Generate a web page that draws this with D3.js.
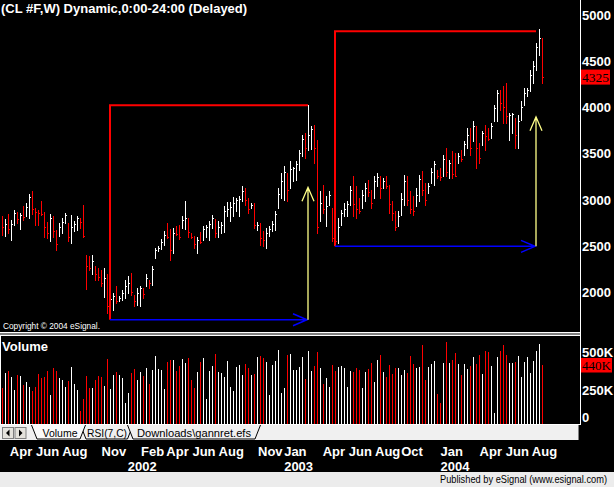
<!DOCTYPE html>
<html><head><meta charset="utf-8">
<script src="https://cdn.jsdelivr.net/npm/d3@7"></script>
<style>html,body{margin:0;padding:0;background:#000;overflow:hidden}</style>
</head><body><svg id="c" width="614" height="487"></svg>
<script>
// ---------- DATA (weekly CL #F bars, Mar 2001 - Aug 2004) ----------
const firstWeek = "2001-03-12";
const high = [
2820,2790,2840,2780,2890,2870,2850,2930,2960,3060,
3090,2910,2890,2980,2870,2760,2840,2820,2674,2746,
2800,2855,2746,2836,2764,2819,2800,2945,2400,2390,
2400,2280,2260,2240,2260,2200,1960,1990,2060,1955,
2025,2130,2170,2205,1970,2045,2060,2045,2190,2135,
2280,2480,2495,2570,2660,2750,2680,2690,2710,2730,
2820,2980,2800,2640,2610,2600,2650,2717,2730,2770,
2830,2790,2764,2754,2927,2970,2977,3027,3017,3035,
3143,3125,3017,2963,2963,2754,2746,2656,2692,2710,
2764,2872,3125,3288,3367,3288,3414,3352,3414,3541,
3703,3721,4020,3800,3810,3649,3089,3161,3035,3089,
2908,2980,2800,2890,2963,2981,3143,3259,3143,3017,
3107,3180,3215,3107,3251,3288,3251,3233,3251,3161,
2981,2872,2872,3071,3270,3259,3089,3035,3125,3270,
3306,3180,3180,3342,3414,3324,3342,3486,3558,3432,
3522,3504,3504,3540,3630,3775,3775,3847,3793,3612,
3739,3811,3775,3829,4027,4190,4190,4226,4262,3937,
3940,3883,3919,4063,4207,4207,4406,4496,4695,4850,
4750];
const low = [
2620,2610,2640,2560,2720,2750,2680,2780,2820,2800,
2840,2730,2730,2830,2600,2580,2550,2600,2458,2602,
2640,2746,2548,2530,2656,2674,2690,2600,2030,2240,
2190,2130,2130,2060,1950,1770,1705,1810,1880,1900,
1915,1935,1990,1970,1845,1860,1845,1935,2060,2045,
2080,2370,2440,2460,2510,2580,2350,2420,2620,2570,
2690,2680,2600,2580,2480,2420,2530,2566,2600,2566,
2690,2600,2600,2638,2645,2819,2764,2826,2872,2826,
2981,2945,2855,2909,2692,2667,2512,2494,2476,2602,
2656,2674,2908,3017,2999,2981,3125,3197,3215,3324,
3468,3450,3541,3548,3396,2638,2764,2855,2710,2945,
2547,2494,2530,2728,2819,2819,2945,2819,2800,2855,
2909,2981,3035,2909,3017,3143,3017,3125,3125,2855,
2782,2674,2710,2837,2945,2945,2855,2837,2927,2981,
3053,2945,3071,3180,3161,3233,3215,3251,3251,3233,
3233,3251,3396,3414,3486,3558,3486,3630,3342,3396,
3594,3540,3649,3667,3847,3847,3973,3829,3829,3649,
3721,3558,3558,3865,4027,4117,4171,4262,4406,4568,
4262];
const close = [
2700,2740,2680,2740,2860,2790,2830,2810,2920,3030,
2900,2870,2850,2840,2700,2640,2800,2660,2520,2700,
2760,2830,2600,2700,2740,2800,2760,2610,2280,2260,
2330,2200,2160,2100,2150,1850,1920,1960,1900,1940,
1990,2060,2100,2000,1900,1990,2040,1980,2150,2100,
2250,2450,2480,2540,2620,2600,2450,2640,2630,2600,
2780,2800,2650,2600,2520,2560,2540,2680,2700,2740,
2800,2640,2700,2720,2880,2900,2920,2960,2990,3010,
3090,3000,2900,2940,2720,2730,2580,2560,2640,2680,
2740,2840,3060,3200,3300,3100,3330,3340,3380,3500,
3660,3560,3700,3760,3560,2700,2960,2900,2930,3050,
2580,2550,2700,2860,2900,2950,3100,2950,2900,2880,
3050,3130,3080,2960,3200,3240,3120,3200,3150,2950,
2850,2700,2820,3010,3200,3000,2900,2880,3050,3220,
3100,3000,3150,3300,3380,3260,3240,3440,3300,3400,
3280,3260,3470,3440,3600,3700,3560,3800,3560,3450,
3720,3690,3660,3800,3990,4150,4050,4000,3900,3920,
3930,3700,3850,4000,4150,4180,4350,4450,4650,4750,
4325];
const volumeK = [
268,380,395,349,253,364,357,288,311,273,
243,273,372,342,349,395,213,417,395,342,
326,273,319,425,296,250,91,182,357,266,
266,326,357,349,281,486,258,364,387,364,
342,152,228,380,410,326,387,357,415,296,
402,509,410,402,258,463,478,481,395,433,
486,455,491,326,266,387,463,491,182,395,
433,524,387,380,349,471,273,240,425,440,
364,448,415,364,372,501,509,493,463,213,
440,473,554,228,266,516,524,402,402,425,
501,334,546,395,433,539,417,296,342,273,
440,395,425,433,417,273,395,387,417,402,
266,387,410,455,311,478,516,387,349,440,
372,417,417,364,402,380,509,448,417,425,
592,326,425,448,471,220,152,455,615,455,
478,531,448,364,448,410,433,501,448,516,
372,546,539,433,76,501,546,592,516,455,
455,463,509,349,463,501,380,471,546,600,
440];
// u = up week (white), d = down week (red)
const barDir =
 "duduududuu"+"dddddduddu"+"uuduuudddd"+"uddduduudu"+"uuudduudud"+
 "uuuuuddudd"+"uuddduduuu"+"uduuuuuuuu"+"uddududduu"+"uuuuuduuuu"+
 "uduudduduu"+"dduuuuuddd"+"uudduududd"+"dduuuddduu"+"dduuuddudu"+
 "dduduududd"+"udduuudddu"+"uduuuuuuuu"+"d";
const monthTickDates = ["2001-04-01","2001-06-01","2001-08-01","2001-11-01","2002-02-01","2002-04-01","2002-06-01","2002-08-01","2002-11-01","2003-01-01","2003-04-01","2003-06-01","2003-08-01","2003-10-01","2004-01-01","2004-04-01","2004-06-01","2004-08-01"];
const monthTickLabels = ["Apr","Jun","Aug","Nov","Feb","Apr","Jun","Aug","Nov","Jan","Apr","Jun","Aug","Oct","Jan","Apr","Jun","Aug"];
const yearTickDates = ["2002-01-01","2003-01-01","2004-01-01"];
const yearTickLabels = ["2002","2003","2004"];
const priceTicks = [2000,2500,3000,3500,4000,4500,5000];
const volumeTicksK = [0,250,500];
const lastPrice = 4325;
const lastVolumeK = 440;
// swing studies: bar index of low, bar index of end, low price, high price, target price
const swingFrom = [36,111];
const swingTo = [102,178];
const swingLow = [1700,2494];
const swingHigh = [4020,4820];
const swingTarget = [3132,3895];

// ---------- DRAWING ----------
const W = 614, H = 487;
const svg = d3.select("#c");
const parse = d3.utcParse("%Y-%m-%d");
const start = parse(firstWeek);
const weeks = high.map((_, i) => d3.utcDay.offset(start, 7 * i));

const x = d3.scaleUtc().domain([weeks[0], weeks[weeks.length - 1]]).range([2.3, 542.3]);
const yP = d3.scaleLinear().domain([2000, 5000]).range([292, 14.7]);
const yV = d3.scaleLinear().domain([0, 440]).range([423, 365]);
const px = d => Math.round(x(d)) + 0.5;
const RED = "#ff0000", WHITE = "#ffffff";
const col = i => barDir[i] === "d" ? RED : WHITE;
const FONT = "'Liberation Sans', Arial, sans-serif";
const SERIF = "'Liberation Serif', 'Times New Roman', serif";

svg.append("rect").attr("width", W).attr("height", H).attr("fill", "#000");

// pane borders
const frame = svg.append("g").attr("stroke", "#fff").attr("stroke-width", 1);
frame.append("line").attr("x1", 580.5).attr("x2", 580.5).attr("y1", 0).attr("y2", 424);
frame.append("line").attr("x1", 0.5).attr("x2", 0.5).attr("y1", 336).attr("y2", 424);
frame.append("line").attr("x1", 0).attr("x2", 580).attr("y1", 332.5).attr("y2", 332.5);
frame.append("line").attr("x1", 0).attr("x2", 580).attr("y1", 335.5).attr("y2", 335.5);
svg.append("rect").attr("x", 0).attr("y", 333).attr("width", 580).attr("height", 2).attr("fill", "#808080");

// title
svg.append("text").attr("x", 1).attr("y", 13).attr("fill", "#fff")
  .attr("font-family", FONT).attr("font-weight", "bold").attr("font-size", 13)
  .text("(CL #F,W) Dynamic,0:00-24:00 (Delayed)");

// price bars
const bars = svg.append("g").attr("shape-rendering", "crispEdges");
high.forEach((h, i) => {
  const xx = px(weeks[i]);
  bars.append("line").attr("x1", xx).attr("x2", xx)
    .attr("y1", Math.round(yP(h))).attr("y2", Math.round(yP(low[i])) + 1)
    .attr("stroke", col(i)).attr("stroke-width", 1);
  const cy = Math.round(yP(close[i])) + 0.5;
  bars.append("line").attr("x1", xx - 0.5).attr("x2", xx + 1.5)
    .attr("y1", cy).attr("y2", cy).attr("stroke", col(i)).attr("stroke-width", 1);
});

// swing overlays
swingFrom.forEach((f, k) => {
  const x0 = px(weeks[f]) - 0.5, x1 = px(weeks[swingTo[k]]) - 0.5;
  const yl = yP(swingLow[k]), yh = yP(swingHigh[k]), yt = yP(swingTarget[k]);
  svg.append("path").attr("d", `M${x0},${yl}V${yh}H${x1}`)
    .attr("fill", "none").attr("stroke", RED).attr("stroke-width", 2);
  svg.append("path").attr("d", `M${x0},${yl}H${x1 - 1}M${x1 - 15},${yl - 6}L${x1 - 1},${yl}L${x1 - 15},${yl + 6}`)
    .attr("fill", "none").attr("stroke", "#0000ff").attr("stroke-width", 1.5);
  svg.append("path").attr("d", `M${x1},${yl}V${yt}M${x1 - 6},${yt + 14}L${x1},${yt}L${x1 + 6},${yt + 14}`)
    .attr("fill", "none").attr("stroke", "#ffff88").attr("stroke-width", 1.3);
});

// copyright
svg.append("text").attr("x", 3).attr("y", 329).attr("fill", "#fff")
  .attr("font-family", FONT).attr("font-size", 8.3).text("Copyright © 2004 eSignal.");

// price axis
const pAxis = svg.append("g").attr("transform", "translate(581,0)")
  .call(d3.axisRight(yP).tickValues(priceTicks).tickSize(0).tickPadding(1).tickFormat(d3.format("d")));
pAxis.select(".domain").remove();
pAxis.selectAll("text").attr("fill", "#fff").attr("font-family", FONT)
  .attr("font-weight", "bold").attr("font-size", 13).attr("dy", "0.35em");
// last price marker
const lp = svg.append("g").attr("transform", `translate(581,${yP(lastPrice)})`);
lp.append("rect").attr("x", 0).attr("y", -7.5).attr("width", 29).attr("height", 15).attr("fill", RED);
lp.append("text").attr("x", 1).attr("y", 5).attr("fill", "#000")
  .attr("font-family", SERIF).attr("font-size", 13.5).attr("textLength", 27).attr("lengthAdjust", "spacingAndGlyphs")
  .text(lastPrice);

// volume pane
svg.append("text").attr("x", 2).attr("y", 351).attr("fill", "#fff")
  .attr("font-family", FONT).attr("font-weight", "bold").attr("font-size", 13).text("Volume");
const vb = svg.append("g").attr("shape-rendering", "crispEdges");
volumeK.forEach((v, i) => {
  const xx = px(weeks[i]);
  vb.append("line").attr("x1", xx).attr("x2", xx)
    .attr("y1", Math.round(yV(v))).attr("y2", yV(0) + 1)
    .attr("stroke", col(i)).attr("stroke-width", 1);
});
const vAxis = svg.append("g").attr("transform", "translate(581,0)")
  .call(d3.axisRight(yV).tickValues(volumeTicksK).tickSize(0).tickPadding(1)
    .tickFormat(d => d === 0 ? "0" : d + "K"));
vAxis.select(".domain").remove();
vAxis.selectAll("text").attr("fill", "#fff").attr("font-family", FONT)
  .attr("font-weight", "bold").attr("font-size", 13)
  .attr("dy", d => d === 0 ? "-0.15em" : (d === 500 ? "-0.5" : "0.35em"));
const lv = svg.append("g").attr("transform", `translate(581,${yV(lastVolumeK)})`);
lv.append("rect").attr("x", 0).attr("y", -7).attr("width", 31).attr("height", 14.5).attr("fill", RED);
lv.append("text").attr("x", 1).attr("y", 5).attr("fill", "#000")
  .attr("font-family", SERIF).attr("font-size", 13.5).attr("textLength", 29).attr("lengthAdjust", "spacingAndGlyphs")
  .text(lastVolumeK + "K");

// tab bar
const tb = svg.append("g");
tb.append("rect").attr("x", 0).attr("y", 424).attr("width", 579).attr("height", 16).attr("fill", "#f0f0f0");
tb.append("line").attr("x1", 0).attr("x2", 581).attr("y1", 424.5).attr("y2", 424.5).attr("stroke", "#fff");
tb.append("line").attr("x1", 578.5).attr("x2", 578.5).attr("y1", 425).attr("y2", 440).attr("stroke", "#808080");
[[2, "M9.5,429.5L6,433L9.5,436.5Z"], [14.5, "M19,429.5L22.5,433L19,436.5Z"]].forEach(([bx, tri]) => {
  tb.append("rect").attr("x", bx + 0.5).attr("y", 427.5).attr("width", 11).attr("height", 11)
    .attr("fill", "#e4e2dc").attr("stroke", "#808080");
  tb.append("path").attr("d", tri).attr("fill", "#000");
});
const tabs = [
  {l: 80.5, r: 133, label: "RSI(7,C)", tx: 87, w: 40},
  {l: 127.5, r: 260.5, label: "Downloads\\gannret.efs", tx: 137, w: 114},
  {l: 31.5, r: 85.5, label: "Volume", tx: 42.5, w: 35}
];
tabs.forEach(t => {
  tb.append("path").attr("d", `M${t.l},425L${t.l + 5.5},439L${t.r - 5.5},439L${t.r},425`)
    .attr("fill", t.label === "Volume" ? "#fafafa" : "#f0f0f0").attr("stroke", "#000").attr("stroke-width", 1);
  tb.append("text").attr("x", t.tx).attr("y", 437).attr("fill", "#000")
    .attr("font-family", FONT).attr("font-size", 11)
    .attr("textLength", t.w).attr("lengthAdjust", "spacingAndGlyphs").text(t.label);
});

// time axis
const mAxis = svg.append("g").attr("transform", "translate(0,456)")
  .call(d3.axisBottom(x).tickValues(monthTickDates.map(parse)).tickSize(0)
    .tickFormat((d, i) => monthTickLabels[i]));
mAxis.select(".domain").remove();
mAxis.selectAll("text").attr("y", 0).attr("dy", 0).attr("x", -1.5).attr("text-anchor", "start")
  .attr("fill", "#fff").attr("font-family", FONT).attr("font-weight", "bold").attr("font-size", 13);
const yAxis = svg.append("g").attr("transform", "translate(0,470.5)")
  .call(d3.axisBottom(x).tickValues(yearTickDates.map(parse)).tickSize(0)
    .tickFormat((d, i) => yearTickLabels[i]));
yAxis.select(".domain").remove();
yAxis.selectAll("text").attr("y", 0).attr("dy", 0).attr("x", -1.5).attr("text-anchor", "start")
  .attr("fill", "#fff").attr("font-family", FONT).attr("font-weight", "bold").attr("font-size", 13);

// status bar
svg.append("rect").attr("x", 0).attr("y", 472).attr("width", W).attr("height", 15).attr("fill", "#ececec");
svg.append("text").attr("x", 607).attr("y", 483).attr("text-anchor", "end").attr("fill", "#000")
  .attr("font-family", FONT).attr("font-size", 10.5)
  .attr("textLength", 167).attr("lengthAdjust", "spacingAndGlyphs")
  .text("Published by eSignal (www.esignal.com)");
</script></body></html>
